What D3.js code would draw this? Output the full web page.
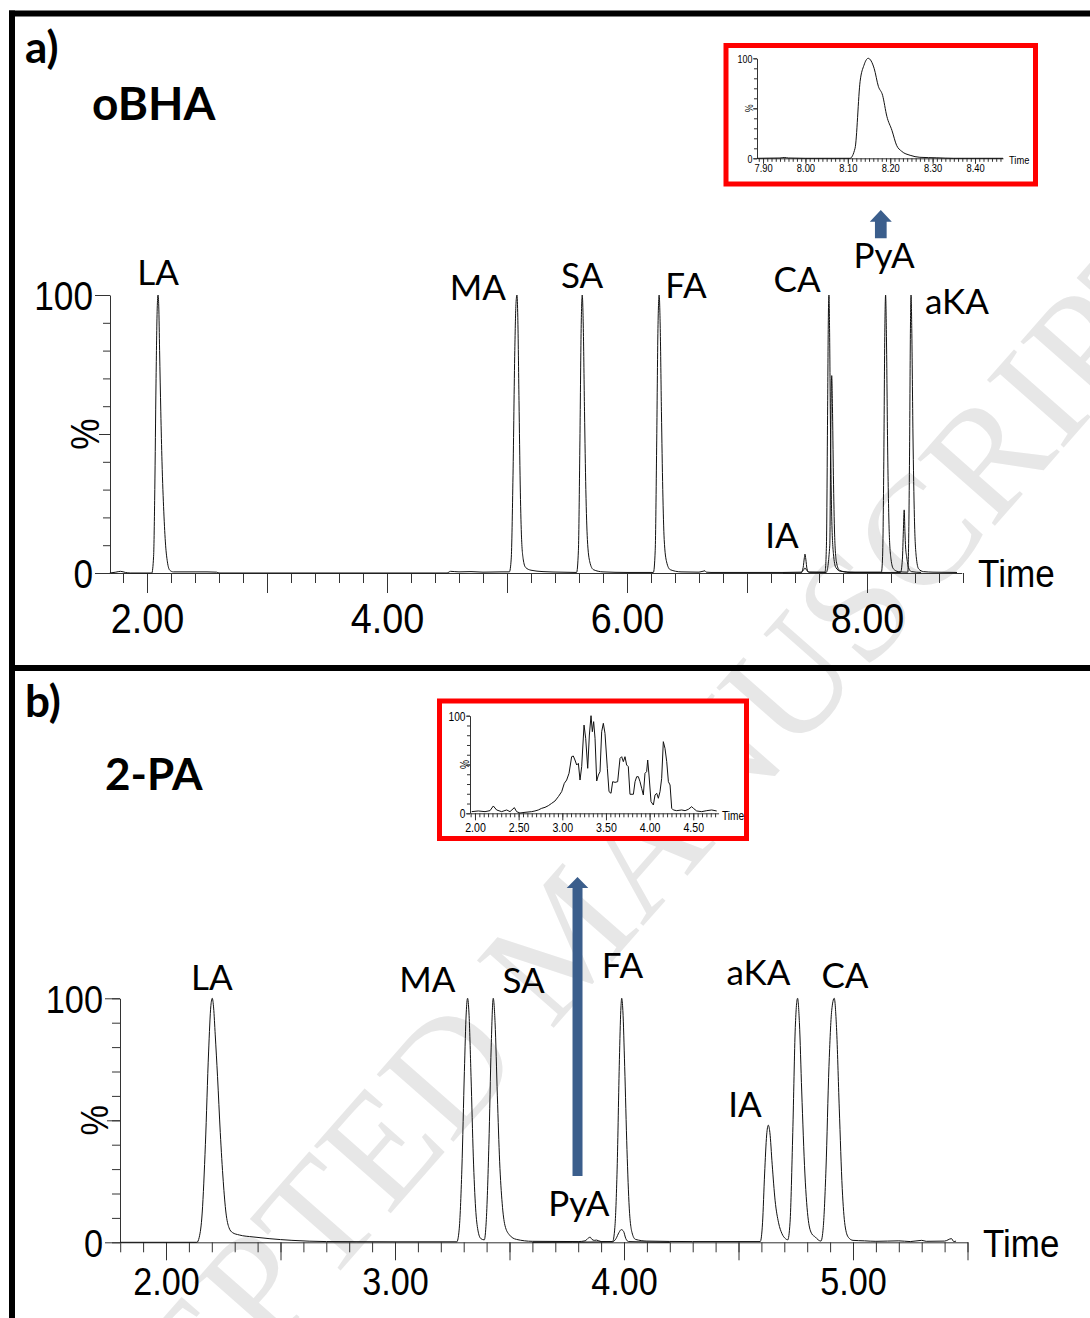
<!DOCTYPE html>
<html>
  <head>
    <meta charset="utf-8">
    <title>oBHA / 2-PA</title>
    <style media="screen">
      body { margin: 0; background: #fff; }
      .num { font-family: "Liberation Sans", Arial, sans-serif; fill: #000; }
      .lbl { font-family: Lato, "Open Sans", sans-serif; fill: #000; }
      .ttl { font-family: Lato, "Open Sans", sans-serif; font-weight: 700; fill: #000; }
      .trace { fill: none; stroke: #111; stroke-width: 1; }
      .axis path, .axis line { stroke: #333; }
    </style>
  </head>
  <body>
    <div class="container"></div>
    <script src="https://cdn.jsdelivr.net/npm/d3@7"></script>
    <script type="text/javascript">
    var width = 1090;
    var height = 1318;

    // ---- data: [time (min), intensity (%)] ----
    var traceA1 = [[1.69,0],[1.74,0.3],[1.78,0.6],[1.82,0.2],[1.86,0],[2.04,0],[2.055,6],[2.065,30],[2.075,68],[2.085,95],
      [2.092,100],[2.098,96],[2.105,80],[2.115,58],[2.125,40],[2.14,22],[2.155,10],[2.17,4],[2.19,1],[2.22,0.4],[2.5,0.4],
      [2.58,0.3],[2.6,0],[4.5,0],[4.53,0.6],[4.6,0.4],[4.7,0.5],[4.8,0.3],[4.95,0.4],[5.02,0.4],
      [5.035,5],[5.05,35],[5.065,80],[5.075,97],[5.083,100],[5.09,92],[5.1,62],[5.11,32],[5.12,14],[5.135,5],[5.155,2],
      [5.2,1],[5.3,0.5],[5.45,0.3],[5.58,0.2],
      [5.595,8],[5.607,45],[5.618,88],[5.627,100],[5.636,88],[5.646,58],[5.657,30],[5.67,12],[5.69,4],[5.72,1.2],[5.8,0.4],
      [6.0,0.2],[6.22,0.2],
      [6.235,8],[6.247,45],[6.258,88],[6.268,100],[6.277,88],[6.287,58],[6.298,30],[6.31,12],[6.33,4],[6.36,1.2],[6.45,0.4],
      [6.6,0.3],[6.65,0.8],[6.66,0.3],[6.7,0.2],[7.3,0.2],[7.45,0.3],[7.47,1],[7.483,1.8],[7.5,0.8],[7.52,0.3],[7.65,0.3],
      [7.662,10],[7.672,60],[7.678,92],[7.683,100],[7.688,88],[7.695,55],[7.705,22],[7.72,7],[7.74,2],[7.78,0.6],[7.9,0.3],
      [8.12,0.3],[8.13,6],[8.14,40],[8.148,85],[8.155,100],[8.162,85],[8.172,45],[8.185,15],[8.2,5],[8.22,1.5],[8.26,0.5],
      [8.34,0.3],[8.345,6],[8.355,45],[8.362,88],[8.367,100],[8.373,88],[8.383,50],[8.395,20],[8.41,6],[8.43,1.5],
      [8.47,0.5],[8.55,0.3],[8.75,0.2]];
    var traceA2 = [[7.3,0],[7.45,0],[7.468,2],[7.478,5.5],[7.483,6.8],[7.49,5],[7.5,1.5],[7.515,0.3],[7.66,0.2],
      [7.69,10],[7.697,45],[7.703,68],[7.706,71],[7.712,60],[7.72,35],[7.73,14],[7.745,4],[7.77,1],[7.85,0.2],
      [8.28,0.2],[8.295,5],[8.303,15],[8.31,22.7],[8.316,15],[8.322,9],[8.33,6],[8.345,2],[8.37,0.5],[8.45,0.2]];

    var traceB1 = [[1.8,0],[2.0,0],[2.135,0],[2.145,2],[2.158,12],[2.172,40],[2.186,78],[2.196,97],[2.202,100],[2.208,96],
      [2.215,85],[2.225,68],[2.237,45],[2.25,25],[2.262,12],[2.275,6],[2.29,4],[2.32,3],[2.38,2.2],[2.45,1.5],[2.55,0.8],
      [2.7,0.3],[3.0,0.2],[3.27,0.2],
      [3.28,5],[3.292,30],[3.303,70],[3.311,94],[3.317,100],[3.323,94],[3.332,68],[3.342,35],[3.352,14],[3.362,5],
      [3.375,1.5],[3.39,1],
      [3.398,8],[3.41,40],[3.42,80],[3.429,100],[3.437,90],[3.447,60],[3.457,33],[3.468,16],[3.48,7],[3.5,3],[3.53,1.2],
      [3.6,0.4],[3.8,0.3],[3.83,0.6],[3.845,1.8],[3.852,2.1],[3.86,1.2],[3.87,0.8],[3.88,0.9],[3.9,0.3],[3.95,0.3],
      [3.96,6],[3.97,30],[3.98,75],[3.986,95],[3.99,100],[3.995,95],[4.003,72],[4.013,38],[4.023,14],[4.035,4],[4.05,1.2],
      [4.1,0.5],[4.3,0.3],[4.595,0.3],
      [4.605,8],[4.614,28],[4.623,44],[4.63,48],[4.637,45],[4.647,32],[4.66,17],[4.675,8],[4.69,3.5],[4.705,1.5],[4.715,1],
      [4.725,8],[4.737,45],[4.748,88],[4.758,100],[4.766,90],[4.776,62],[4.79,28],[4.805,9],[4.82,3.5],[4.835,2.2],
      [4.848,1],[4.86,0.5],
      [4.87,6],[4.882,30],[4.895,72],[4.907,95],[4.918,100],[4.928,88],[4.94,55],[4.953,22],[4.965,7],[4.98,2],[5.0,0.8],
      [5.05,0.6],[5.1,0.4],[5.2,0.6],[5.25,0.3],[5.3,0.8],[5.32,0.4],[5.4,0.5],[5.43,1.5],[5.44,0.3],[5.45,0.5]];
    var traceB2 = [[3.6,0],[3.95,0.2],[3.965,1.5],[3.978,4],[3.988,5.2],[3.998,4.5],[4.008,1.5],[4.02,0.3],[4.2,0]];

    var insetA = [[7.886,0],[7.94,0.3],[7.95,0.8],[7.96,0.3],[8.0,0],[8.105,0],[8.117,10],[8.129,77],[8.138,93],[8.148,100],
      [8.162,90],[8.172,72],[8.182,63],[8.192,42],[8.204,28],[8.215,13],[8.227,7],[8.247,3],[8.27,1],[8.31,0.5],[8.35,0],
      [8.466,0]];
    var insetB = [[1.962,1.7],[2.038,2.4],[2.115,1.7],[2.172,2.7],[2.21,7.5],[2.248,3.4],[2.305,1.7],[2.363,3.4],[2.401,1.7],
      [2.451,5.8],[2.477,1.7],[2.515,0.3],[2.573,1.0],[2.649,1.7],[2.687,2.4],[2.725,3.4],[2.764,5.1],[2.802,6.1],
      [2.84,7.8],[2.878,10.2],[2.916,12.6],[2.955,17.1],[2.993,22.2],[3.023,30.7],[3.05,34.1],[3.077,41],[3.107,58],
      [3.126,58.7],[3.145,54.6],[3.165,49.5],[3.184,51.2],[3.203,34.1],[3.222,47.8],[3.249,90.4],[3.268,76.8],[3.291,46.1],
      [3.31,80.2],[3.329,100],[3.344,83.6],[3.359,93.9],[3.375,76.8],[3.394,33.1],[3.413,39.2],[3.432,42.7],[3.451,83.6],
      [3.47,92.2],[3.489,81.9],[3.516,46.1],[3.535,22.2],[3.558,20.5],[3.577,32.4],[3.604,31.7],[3.634,32.4],[3.661,56.3],
      [3.68,58],[3.699,52.9],[3.718,58],[3.737,49.5],[3.756,47.8],[3.775,19.5],[3.814,19.5],[3.833,32.4],[3.852,37.5],
      [3.871,37.5],[3.89,32.4],[3.909,25.6],[3.928,18.8],[3.947,41],[3.966,42.7],[3.978,54.6],[3.993,39.2],[4.016,11.9],
      [4.043,8.5],[4.062,18.8],[4.081,20.5],[4.1,15.4],[4.119,22.2],[4.138,35.8],[4.157,73.4],[4.176,66.6],[4.196,52.9],
      [4.215,32.4],[4.234,29],[4.253,5.1],[4.272,3.4],[4.31,2.7],[4.367,3.4],[4.406,2.7],[4.444,4.1],[4.482,6.8],
      [4.501,5.1],[4.539,2.4],[4.596,1.7],[4.654,2.7],[4.711,3.4],[4.768,2.4]];

    // peak names and where their labels sit, in (time, %) of each panel
    var peakNamesA = ["LA", "MA", "SA", "FA", "CA", "PyA", "aKA", "IA"];
    var peakLabelTimeA = [2.092, 4.758, 5.625, 6.492, 7.417, 8.142, 8.75, 7.292];
    var peakLabelPctA = [103.6, 98.2, 102.5, 98.9, 101.1, 109.7, 93.2, 9.0];
    var peakNamesB = ["LA", "MA", "SA", "FA", "PyA", "aKA", "CA", "IA"];
    var peakLabelTimeB = [2.200, 3.141, 3.562, 3.993, 3.803, 4.587, 4.965, 4.528];
    var peakLabelPctB = [103.4, 102.7, 102.0, 108.2, 10.8, 105.5, 104.1, 51.5];

    // tick values
    var minorTicksA = d3.range(18, 89, 2).map(function(d) { return d / 10; });
    var majorTicksA = [2, 3, 4, 5, 6, 7, 8];
    var tickLabelsA = [2, 4, 6, 8];
    var minorTicksB = d3.range(18, 56).map(function(d) { return d / 10; });
    var majorTicksB = [2, 2.5, 3, 3.5, 4, 4.5, 5, 5.5];
    var tickLabelsB = [2, 3, 4, 5];
    var minorTicksInA = d3.range(789, 847).map(function(d) { return d / 100; });
    var tickLabelsInA = [7.9, 8.0, 8.1, 8.2, 8.3, 8.4];
    var minorTicksInB = d3.range(39, 96).map(function(d) { return d / 20; });
    var tickLabelsInB = [2.0, 2.5, 3.0, 3.5, 4.0, 4.5];
    var pctTicks = d3.range(0, 101, 10);

    var svg = d3.select(".container")
        .append("svg")
        .attr("width", width)
        .attr("height", height);

    // watermark (behind everything)
    svg.append("text")
        .attr("transform", "translate(565,937) rotate(-48.7)")
        .attr("text-anchor", "middle")
        .attr("dy", "0.33em")
        .style("font-family", "'Liberation Serif', 'DejaVu Serif', serif")
        .style("font-size", "156px")
        .style("fill", "#e7e7e7")
        .text("ACCEPTED MANUSCRIPT");

    // frame
    var frame = svg.append("g").attr("stroke", "#000").attr("stroke-width", 6);
    frame.append("line").attr("x1", 9).attr("y1", 13.5).attr("x2", width).attr("y2", 13.5);
    frame.append("line").attr("x1", 12).attr("y1", 10.5).attr("x2", 12).attr("y2", height);
    frame.append("line").attr("x1", 12).attr("y1", 668).attr("x2", width).attr("y2", 668);

    function isIn(list, d) {
      return list.some(function(l) { return Math.abs(l - d) < 1e-6; });
    }

    // x axis: minor ticks, major ticks, labels
    function xAxis(x, y0, o) {
      svg.append("g").attr("class", "axis").attr("transform", "translate(0," + y0 + ")")
          .call(d3.axisBottom(x).tickValues(o.minor).tickSize(o.minorLen).tickSizeOuter(0).tickFormat(""));
      var g = svg.append("g").attr("class", "axis").attr("transform", "translate(0," + y0 + ")")
          .call(d3.axisBottom(x).tickValues(o.major).tickSize(o.majorLen).tickSizeOuter(0)
            .tickFormat(function(d) { return isIn(o.labels, d) ? d3.format(".2f")(d) : ""; }));
      g.select(".domain").remove();
      g.selectAll("text")
          .attr("class", "num")
          .attr("y", o.labelY)
          .attr("dy", 0)
          .attr("transform", "scale(" + o.sx + ",1)")
          .style("font-size", o.fs + "px");
    }

    // y axis: 0..100 %
    function yAxis(y, x0, o) {
      svg.append("g").attr("class", "axis").attr("transform", "translate(" + x0 + ",0)")
          .call(d3.axisLeft(y).tickValues(pctTicks).tickSize(o.minorLen).tickSizeOuter(0).tickFormat(""));
      var m = svg.append("g").attr("class", "axis").attr("transform", "translate(" + x0 + ",0)")
          .call(d3.axisLeft(y).tickValues([50]).tickSize(o.midLen).tickSizeOuter(0).tickFormat(""));
      m.select(".domain").remove();
      var g = svg.append("g").attr("class", "axis").attr("transform", "translate(" + x0 + ",0)")
          .call(d3.axisLeft(y).tickValues([0, 100]).tickSize(o.majorLen).tickSizeOuter(0).tickFormat(d3.format("d")));
      g.select(".domain").remove();
      g.selectAll("text")
          .attr("class", "num")
          .attr("x", -(o.majorLen + o.pad) / o.sx)
          .attr("dy", "0.36em")
          .attr("transform", "scale(" + o.sx + ",1)")
          .style("font-size", o.fs + "px");
      svg.append("text")
          .attr("class", "num")
          .attr("text-anchor", "middle")
          .attr("transform", "translate(" + o.pctX + "," + y(50) + ") rotate(-90) scale(" + o.sx + ",1)")
          .attr("dy", "0.36em")
          .style("font-size", o.fs + "px")
          .text("%");
    }

    function trace(x, y, data, curve) {
      var line = d3.line()
          .x(function(d) { return x(d[0]); })
          .y(function(d) { return y(d[1]); })
          .curve(curve);
      svg.append("path").datum(data).attr("class", "trace").attr("d", line);
    }

    function peakLabels(x, y, names, times, pcts) {
      svg.selectAll(null)
          .data(names)
          .enter()
          .append("text")
          .attr("class", "lbl")
          .attr("text-anchor", "middle")
          .attr("x", function(d, i) { return x(times[i]); })
          .attr("y", function(d, i) { return y(pcts[i]); })
          .style("font-size", "35px")
          .text(function(d) { return d; });
    }

    function arrow(xc, yTop, yBot, shaftW, headW, headH) {
      var pts = [[xc, yTop], [xc + headW / 2, yTop + headH], [xc + shaftW / 2, yTop + headH], [xc + shaftW / 2, yBot],
                 [xc - shaftW / 2, yBot], [xc - shaftW / 2, yTop + headH], [xc - headW / 2, yTop + headH]];
      svg.append("polygon")
          .attr("points", pts.map(function(p) { return p.join(","); }).join(" "))
          .attr("fill", "#3b5e8c");
    }

    function timeLabel(xp, yp, fs, sx) {
      svg.append("text")
          .attr("class", "num")
          .attr("transform", "translate(" + xp + "," + yp + ") scale(" + sx + ",1)")
          .style("font-size", fs + "px")
          .text("Time");
    }

    // ================= panel a =================
    svg.append("text").attr("class", "ttl").attr("x", 25).attr("y", 63).style("font-size", "44px").text("a)");
    svg.append("text").attr("class", "ttl").attr("x", 92).attr("y", 120).style("font-size", "46px").text("oBHA");

    var xA = d3.scaleLinear().domain([1.69, 8.79]).range([109.8, 961.8]);
    var yA = d3.scaleLinear().domain([0, 100]).range([573, 295]);

    yAxis(yA, 110, { minorLen: 7, midLen: 11, majorLen: 15, pad: 2, sx: 0.86, fs: 41, pctX: 84 });
    xAxis(xA, 573, { minor: minorTicksA, major: majorTicksA, labels: tickLabelsA,
                     minorLen: 10, majorLen: 20, labelY: 60, sx: 0.9, fs: 42 });
    trace(xA, yA, traceA2, d3.curveMonotoneX);
    trace(xA, yA, traceA1, d3.curveMonotoneX);
    peakLabels(xA, yA, peakNamesA, peakLabelTimeA, peakLabelPctA);
    timeLabel(978, 587, 39, 0.9);
    arrow(xA(8.115), yA(130.6), yA(120.4), 11.7, 22, 11.7);

    // inset a
    svg.append("rect").attr("x", 726).attr("y", 45.5).attr("width", 309.5).attr("height", 138.5)
        .attr("fill", "#fff").attr("stroke", "#ff0000").attr("stroke-width", 5);
    var xIA = d3.scaleLinear().domain([7.886, 8.466]).range([757.1, 1003]);
    var yIA = d3.scaleLinear().domain([0, 100]).range([158.3, 58.3]);
    yAxis(yIA, 757, { minorLen: 3, midLen: 4, majorLen: 4, pad: 0.5, sx: 0.85, fs: 10.5, pctX: 749.5 });
    xAxis(xIA, 158.3, { minor: minorTicksInA, major: tickLabelsInA, labels: tickLabelsInA,
                       minorLen: 3.5, majorLen: 5.5, labelY: 13.5, sx: 0.85, fs: 11 });
    trace(xIA, yIA, insetA, d3.curveMonotoneX);
    timeLabel(1009, 164, 11, 0.85);

    // ================= panel b =================
    svg.append("text").attr("class", "ttl").attr("x", 25).attr("y", 717).style("font-size", "44px").text("b)");
    svg.append("text").attr("class", "ttl").attr("x", 105).attr("y", 790).style("font-size", "44px").text("2-PA");

    var xB = d3.scaleLinear().domain([1.8, 5.5]).range([120.2, 967.5]);
    var yB = d3.scaleLinear().domain([0, 100]).range([1242.3, 998.3]);

    yAxis(yB, 120, { minorLen: 8, midLen: 13, majorLen: 15, pad: 2, sx: 0.88, fs: 39, pctX: 94 });
    xAxis(xB, 1242.3, { minor: minorTicksB, major: majorTicksB, labels: tickLabelsB,
                        minorLen: 10, majorLen: 18, labelY: 53, sx: 0.9, fs: 38 });
    trace(xB, yB, traceB2, d3.curveMonotoneX);
    trace(xB, yB, traceB1, d3.curveMonotoneX);
    peakLabels(xB, yB, peakNamesB, peakLabelTimeB, peakLabelPctB);
    timeLabel(983, 1257, 38, 0.92);
    arrow(xB(3.797), yB(149.7), yB(27.2), 10, 21.6, 11);

    // inset b
    svg.append("rect").attr("x", 439.5).attr("y", 701).attr("width", 307).attr("height", 137.5)
        .attr("fill", "#fff").attr("stroke", "#ff0000").attr("stroke-width", 5);
    var xIB = d3.scaleLinear().domain([1.943, 4.79]).range([470, 718.6]);
    var yIB = d3.scaleLinear().domain([0, 100]).range([813.3, 715.7]);
    yAxis(yIB, 470, { minorLen: 3, midLen: 4, majorLen: 4, pad: 0.5, sx: 0.85, fs: 12, pctX: 464.5 });
    xAxis(xIB, 813.3, { minor: minorTicksInB, major: tickLabelsInB, labels: tickLabelsInB,
                       minorLen: 4, majorLen: 7, labelY: 18.5, sx: 0.85, fs: 12.5 });
    trace(xIB, yIB, insetB, d3.curveLinear);
    timeLabel(722, 820, 12, 0.85);
    </script>
  </body>
</html>
